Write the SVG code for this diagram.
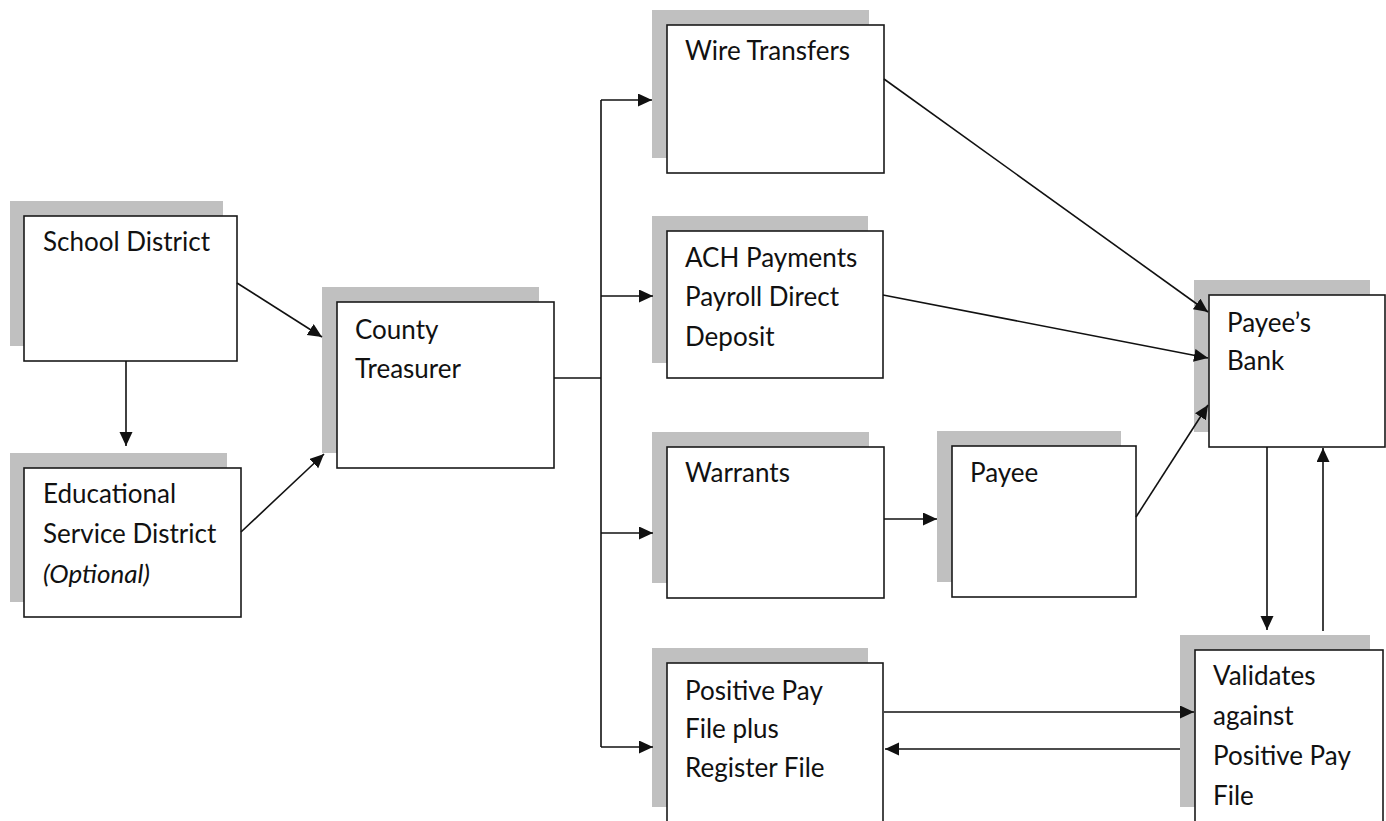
<svg xmlns="http://www.w3.org/2000/svg" width="1386" height="821" viewBox="0 0 1386 821">
<style>
.sh{fill:#c0c0c0}
.bx{fill:#fff;stroke:#1a1a1a;stroke-width:1.6}
.t{font-family:Lato,"Liberation Sans",sans-serif;font-size:26px;fill:#111}
.i{font-style:italic}
.c{stroke:#111;stroke-width:1.6;fill:none}
.a{marker-end:url(#ah)}
</style>
<defs>
<marker id="ah" markerUnits="userSpaceOnUse" markerWidth="15" markerHeight="14" refX="14" refY="6.5" orient="auto">
<path d="M0,0 L14,6.5 L0,13 z" fill="#111"/>
</marker>
</defs>
<rect width="1386" height="821" fill="#fff"/>
<g id="school-district"><rect class="sh" x="10" y="201" width="213" height="145"/><rect class="bx" x="24" y="216" width="213" height="145"/><text class="t" x="43" y="251">School District</text></g>
<g id="esd"><rect class="sh" x="10" y="453" width="217" height="149"/><rect class="bx" x="24" y="468" width="217" height="149"/><text class="t" x="43" y="503">Educational</text><text class="t" x="43" y="543">Service District</text><text class="t i" x="43" y="583">(Optional)</text></g>
<g id="county-treasurer"><rect class="sh" x="322" y="287" width="217" height="166"/><rect class="bx" x="337" y="302" width="217" height="166"/><text class="t" x="355" y="339">County</text><text class="t" x="355" y="378">Treasurer</text></g>
<g id="wire-transfers"><rect class="sh" x="652" y="10" width="217" height="148"/><rect class="bx" x="667" y="25" width="217" height="148"/><text class="t" x="685" y="60">Wire Transfers</text></g>
<g id="ach"><rect class="sh" x="652" y="216" width="216" height="147"/><rect class="bx" x="667" y="231" width="216" height="147"/><text class="t" x="685" y="267">ACH Payments</text><text class="t" x="685" y="306">Payroll Direct</text><text class="t" x="685" y="346">Deposit</text></g>
<g id="warrants"><rect class="sh" x="652" y="432" width="217" height="151"/><rect class="bx" x="667" y="447" width="217" height="151"/><text class="t" x="685" y="482">Warrants</text></g>
<g id="payee"><rect class="sh" x="937" y="431" width="184" height="151"/><rect class="bx" x="952" y="446" width="184" height="151"/><text class="t" x="970" y="482">Payee</text></g>
<g id="positive-pay"><rect class="sh" x="652" y="648" width="216" height="159"/><rect class="bx" x="667" y="663" width="216" height="175"/><text class="t" x="685" y="700">Positive Pay</text><text class="t" x="685" y="738">File plus</text><text class="t" x="685" y="777">Register File</text></g>
<g id="payees-bank"><rect class="sh" x="1194" y="280" width="176" height="152"/><rect class="bx" x="1209" y="295" width="176" height="152"/><text class="t" x="1227" y="332">Payee’s</text><text class="t" x="1227" y="370">Bank</text></g>
<g id="validates"><rect class="sh" x="1180" y="635" width="190" height="172"/><rect class="bx" x="1195" y="650" width="188" height="190"/><text class="t" x="1213" y="685">Validates</text><text class="t" x="1213" y="725">against</text><text class="t" x="1213" y="765">Positive Pay</text><text class="t" x="1213" y="805">File</text></g>
<g id="connectors">
<line class="c a" x1="126" y1="361" x2="126" y2="446"/>
<line class="c a" x1="237" y1="283" x2="322" y2="337"/>
<line class="c a" x1="241" y1="532" x2="324" y2="454"/>
<line class="c" x1="554" y1="378" x2="601" y2="378"/>
<line class="c" x1="601" y1="100" x2="601" y2="747"/>
<line class="c a" x1="601" y1="100" x2="652" y2="100"/>
<line class="c a" x1="601" y1="296" x2="653" y2="296"/>
<line class="c a" x1="601" y1="533" x2="653" y2="533"/>
<line class="c a" x1="601" y1="747" x2="653" y2="747"/>
<line class="c a" x1="884" y1="79" x2="1208" y2="312"/>
<line class="c a" x1="883" y1="295" x2="1208" y2="358"/>
<line class="c a" x1="1136" y1="517" x2="1208" y2="405"/>
<line class="c a" x1="884" y1="519" x2="937" y2="519"/>
<line class="c a" x1="1267" y1="447" x2="1267" y2="630"/>
<line class="c a" x1="1323" y1="631" x2="1323" y2="448"/>
<line class="c a" x1="884" y1="712" x2="1194" y2="712"/>
<line class="c a" x1="1180" y1="749" x2="885" y2="749"/>
</g>
</svg>
